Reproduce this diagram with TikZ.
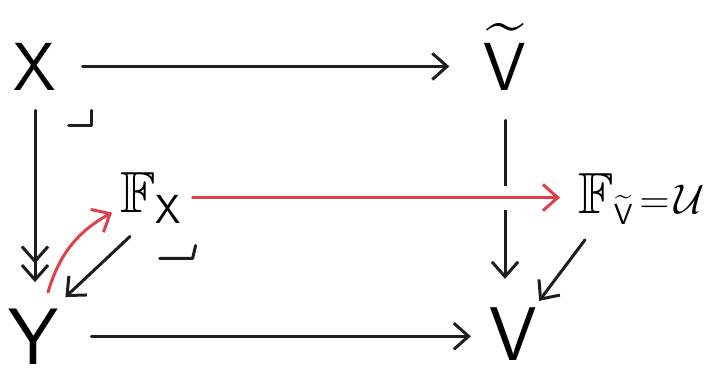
\documentclass[tikz,border=0pt]{standalone}
\usepackage{amsmath,amssymb}
\usetikzlibrary{arrows.meta,calc}
\definecolor{mapColor}{RGB}{30,30,30}
\definecolor{liftColor}{RGB}{224,64,74}
\newcommand{\objfont}{\fontsize{34}{38}\selectfont\sffamily}
\newcommand{\bigobjfont}{\fontsize{40}{44}\selectfont\sffamily}
\newcommand{\fibfont}{\fontsize{29}{32}\selectfont}
\newcommand{\eqfont}{\fontsize{21}{24}\selectfont}
\newcommand{\sfl}[1]{\text{\sffamily #1}}

\begin{document}
\begin{tikzpicture}[x=0.5pt, y=-0.5pt,
        obj/.style={inner sep=0pt, font=\objfont},
        fib/.style={inner sep=0pt, font=\fibfont},
        arr/.style={-{Straight Barb[length=2.6mm,width=4.6mm]}, line width=1.5pt, mapColor, line cap=round},
        epi/.style={-{Straight Barb[length=2.6mm,width=4.6mm] Straight Barb[length=2.6mm,width=4.6mm]}, line width=1.5pt, mapColor, line cap=round},
        lift/.style={arr, liftColor},
        pb/.style={line width=1.5pt, mapColor, line cap=round, line join=round}
      ]
      \useasboundingbox (0,0) rectangle (715,372);
      \node[obj, anchor=base] (X) at (35,90) {X};
      \node[obj, anchor=base] (Vt) at (505,90) {$\widetilde{\sfl{V}}$};
      \node[obj, font=\bigobjfont, anchor=base] (Y) at (34,364) {Y};
      \node[obj, font=\fontsize{38}{42}\selectfont\sffamily, anchor=base] (V) at (513,360) {V};
      \node[fib, anchor=base west] (FX) at (120,212) {$\mathbb{F}_{\sfl{X}}$};
      \node[fib, anchor=base west] (FVt) at (578,213) {$\mathbb{F}_{\scriptscriptstyle\widetilde{\sfl{V}}}$\hspace{3pt}{\eqfont$=\!\mathcal{U}$}};

      \draw[arr, shorten <=13pt, shorten >=17pt] (X.east) -- (X.east -| Vt.west);
      \draw[epi, shorten <=10pt, shorten >=13pt] (X.south) -- (X.south |- Y.north);
      \draw[arr, shorten <=15pt, shorten >=14pt] (Vt.south) -- (Vt.south |- V.north);
      \draw[arr, shorten <=16pt, shorten >=9pt] (Y.east) -- (Y.east -| V.west);
      \draw[lift, preaction={draw, white, line width=12pt, -}, shorten <=5pt, shorten >=9pt] (FX.east) -- (FX.east -| FVt.west);
      \draw[lift] ([shift={(14,-16)}]Y.north) to[bend left=22] ([shift={(-8,15)}]FX.west);
      \draw[arr] ([shift={(10,13)}]FX.south west) -- ([shift={(6,-11)}]Y.north east);
      \draw[arr] ([shift={(7,15)}]FVt.south west) -- ([shift={(2,-6)}]V.north east);
      \draw[pb] ($(X.south east)+(12,35)$) -- ++(23,0) -- ++(0,-15);
      \draw[pb] ($(FX.south east)+(-23,35)$) -- ++(33,0) -- ++(3,-13);
    \end{tikzpicture}
\end{document}
